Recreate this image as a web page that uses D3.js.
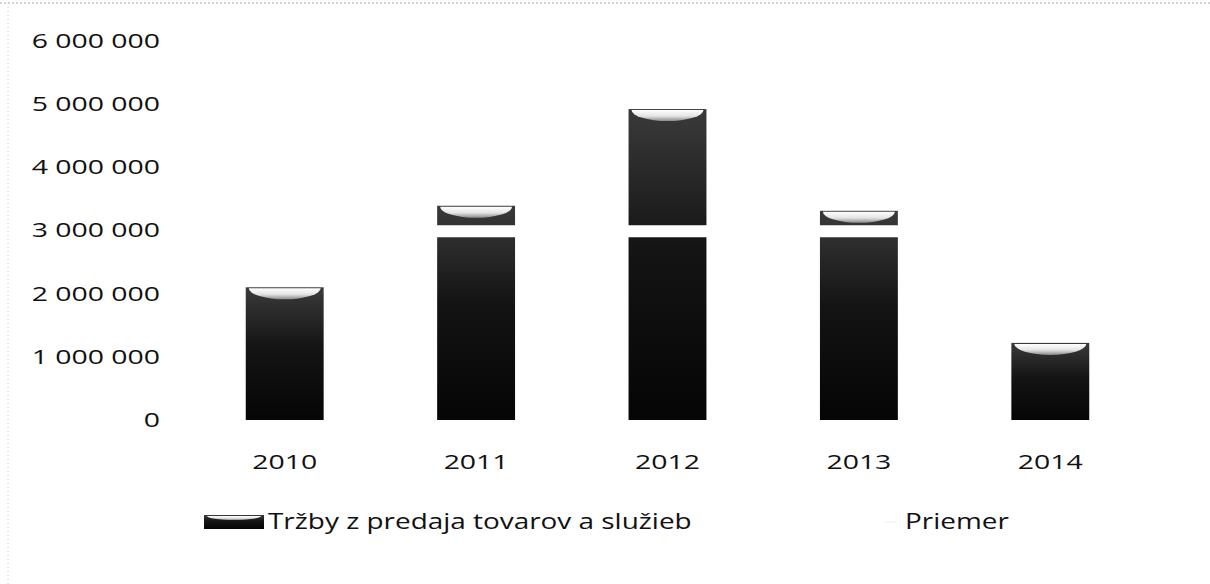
<!DOCTYPE html>
<html>
<head>
<meta charset="utf-8">
<script src="https://cdn.jsdelivr.net/npm/d3@7"></script>
<style>
  body { margin: 0; background: #fff; }
  svg text {
    font-family: "Open Sans", sans-serif;
    fill: #111;
    transform-box: fill-box;
  }
  .stretch-end { transform: scaleX(1.42); transform-origin: 100% 50%; }
  .stretch-mid { transform: scaleX(1.42); transform-origin: 50% 50%; }
  .stretch-start { transform: scaleX(1.33); transform-origin: 0% 50%; }
</style>
</head>
<body>
<div id="chart"></div>
<script>
const years = ["2010", "2011", "2012", "2013", "2014"];
const sales = [2100000, 3390000, 4920000, 3310000, 1220000];
const yTicks = [0, 1000000, 2000000, 3000000, 4000000, 5000000, 6000000];
const seriesNames = ["Tržby z predaja tovarov a služieb", "Priemer"];

const average = d3.mean(sales);

const width = 1210;
const height = 584;

const svg = d3.select("#chart")
  .append("svg")
  .attr("width", width)
  .attr("height", height);

const defs = svg.append("defs");

const bodyGrad = defs.append("linearGradient")
  .attr("id", "body-grad")
  .attr("x1", 0).attr("y1", 0).attr("x2", 0).attr("y2", 1);
bodyGrad.append("stop").attr("offset", "0%").attr("stop-color", "#3a3a3a");
bodyGrad.append("stop").attr("offset", "45%").attr("stop-color", "#141414");
bodyGrad.append("stop").attr("offset", "100%").attr("stop-color", "#050505");

const capGrad = defs.append("linearGradient")
  .attr("id", "cap-grad")
  .attr("x1", 0).attr("y1", 0).attr("x2", 0).attr("y2", 1);
capGrad.append("stop").attr("offset", "0%").attr("stop-color", "#ffffff");
capGrad.append("stop").attr("offset", "55%").attr("stop-color", "#e4e4e4");
capGrad.append("stop").attr("offset", "100%").attr("stop-color", "#8a8a8a");

// scan border
svg.append("line")
  .attr("x1", 0).attr("x2", width).attr("y1", 3).attr("y2", 3)
  .attr("stroke", "#aaa").attr("stroke-dasharray", "2,2");
svg.append("line")
  .attr("x1", 8).attr("x2", 8).attr("y1", 3).attr("y2", height)
  .attr("stroke", "#ccc").attr("stroke-dasharray", "1,3");

const x = d3.scaleBand()
  .domain(years)
  .range([189, 1146])
  .paddingInner(0.593)
  .paddingOuter(0.2965);

const y = d3.scaleLinear()
  .domain([0, 6000000])
  .range([420, 40.8]);

const fmt = d => d3.format(",")(d).replace(/,/g, " ");

const yAxis = svg.append("g")
  .attr("transform", "translate(168,0)")
  .call(d3.axisLeft(y).tickValues(yTicks).tickFormat(fmt).tickSize(0).tickPadding(8));
yAxis.select(".domain").remove();
yAxis.selectAll("text")
  .attr("class", "stretch-end")
  .style("font-size", "20px")
  .style("font-family", "'Open Sans', sans-serif");

const xAxis = svg.append("g")
  .attr("transform", "translate(0,445)")
  .call(d3.axisBottom(x).tickSize(0).tickPadding(0));
xAxis.select(".domain").remove();
xAxis.selectAll("text")
  .attr("class", "stretch-mid")
  .attr("dy", "1.2em")
  .style("font-size", "20px")
  .style("font-family", "'Open Sans', sans-serif");

// cylinder bars
const capRy = 11;
const bars = svg.append("g").selectAll("g")
  .data(years.map((yr, i) => ({ year: yr, value: sales[i] })))
  .join("g");

bars.append("rect")
  .attr("x", d => x(d.year))
  .attr("y", d => y(d.value))
  .attr("width", x.bandwidth())
  .attr("height", d => y(0) - y(d.value))
  .attr("fill", "url(#body-grad)");

bars.append("path")
  .attr("d", d => {
    const l = x(d.year) + 3, r = x(d.year) + x.bandwidth() - 3, t = y(d.value) + 1;
    const rx = (r - l) / 2;
    return `M${l},${t} L${r},${t} A${rx},${capRy} 0 0 1 ${l},${t} Z`;
  })
  .attr("fill", "url(#cap-grad)");

// average line (white)
const line = d3.line()
  .x(d => x(d) + x.bandwidth() / 2)
  .y(() => y(average));
svg.append("path")
  .datum(years)
  .attr("d", line)
  .attr("fill", "none")
  .attr("stroke", "#fff")
  .attr("stroke-width", 12);

// legend
const legend = svg.append("g").attr("transform", "translate(0,522)");
legend.append("rect")
  .attr("x", 204).attr("y", -7).attr("width", 60).attr("height", 14)
  .attr("fill", "url(#body-grad)");
legend.append("path")
  .attr("d", "M207,-6 L261,-6 A27,4 0 0 1 207,-6 Z")
  .attr("fill", "url(#cap-grad)");
legend.append("text")
  .attr("class", "stretch-start")
  .attr("x", 268).attr("y", 0).attr("dy", "0.35em")
  .style("font-size", "21px")
  .text(seriesNames[0]);
legend.append("line")
  .attr("x1", 884).attr("x2", 896).attr("y1", 0).attr("y2", 0)
  .attr("stroke", "#f6f6f6").attr("stroke-width", 2);
legend.append("text")
  .attr("class", "stretch-start")
  .attr("x", 905).attr("y", 0).attr("dy", "0.35em")
  .style("font-size", "21px")
  .text(seriesNames[1]);
</script>
</body>
</html>
